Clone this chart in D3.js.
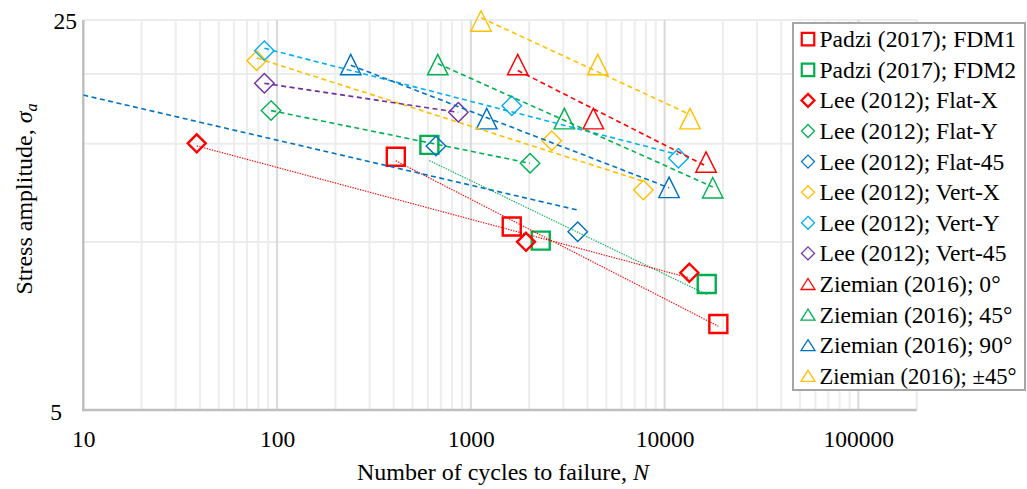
<!DOCTYPE html>
<html><head><meta charset="utf-8">
<script src="https://cdn.jsdelivr.net/npm/d3@7"></script>
<style>
body{margin:0;background:#fff}
svg{display:block}
text{font-family:"Liberation Serif","Times New Roman",serif;fill:#000}
</style>
</head><body>
<svg id="chart" width="1027" height="489"></svg>
<script>
// ---------------- DATA ----------------
const seriesNames = [
  "Padzi (2017); FDM1", "Padzi (2017); FDM2",
  "Lee (2012); Flat-X", "Lee (2012); Flat-Y", "Lee (2012); Flat-45",
  "Lee (2012); Vert-X", "Lee (2012); Vert-Y", "Lee (2012); Vert-45",
  "Ziemian (2016); 0°", "Ziemian (2016); 45°", "Ziemian (2016); 90°", "Ziemian (2016); ±45°"
];
const padziFDM1_N = [410, 1626, 18940];
const padziFDM1_S = [14.22, 10.66, 7.13];
const padziFDM2_N = [611, 2295, 16500];
const padziFDM2_S = [14.93, 10.06, 8.41];
const leeFlatX_N = [38.5, 1927, 13420];
const leeFlatX_S = [15.03, 10.01, 8.81];
const leeFlatY_N = [93.1, 2021];
const leeFlatY_S = [17.2, 13.84];
const leeFlat45_N = [661, 3562];
const leeFlat45_S = [14.86, 10.43];
const leeVertX_N = [78.5, 2615, 7769];
const leeVertX_S = [21.14, 15.19, 12.40];
const leeVertY_N = [86.0, 1626, 11776];
const leeVertY_S = [22.02, 17.55, 14.13];
const leeVert45_N = [86.0, 862];
const leeVert45_S = [19.25, 17.08];
const ziemian0_N = [1746, 4288, 16365];
const ziemian0_S = [20.8, 16.64, 13.91];
const ziemian45_N = [675, 3038, 17721];
const ziemian45_S = [20.8, 16.64, 12.51];
const ziemian90_N = [240, 1208, 10544];
const ziemian90_S = [20.8, 16.64, 12.53];
const ziemianPM45_N = [1129, 4519, 13530];
const ziemianPM45_S = [24.9, 20.8, 16.64];
// Lee Flat-45 trend line as drawn (it runs back past the left edge of the axis)
const leeFlat45Trend_N = [10, 3562];
const leeFlat45Trend_S = [18.34, 11.41];

const xTickValues = [10, 100, 1000, 10000, 100000];
const xTickLabels = ["10", "100", "1000", "10000", "100000"];
const yTickValues = [5, 25];
const yTickLabels = ["5", "25"];
const xTitle = "Number of cycles to failure, ";
const xTitleVar = "N";
const yTitle = "Stress amplitude, ";

// ---------------- STYLE ----------------
const RED = "#FF0000", GREEN = "#00B050", BLUE = "#0070C0", YEL = "#FFC000", LBLUE = "#00B0F0", PURP = "#7030A0";
const series = [
  {N: padziFDM1_N, S: padziFDM1_S, color: RED, shape: "square", thick: true, line: "dot"},
  {N: padziFDM2_N, S: padziFDM2_S, color: GREEN, shape: "square", thick: true, line: "dot"},
  {N: leeFlatX_N, S: leeFlatX_S, color: RED, shape: "diamond", thick: true, line: "dot"},
  {N: leeFlatY_N, S: leeFlatY_S, color: GREEN, shape: "diamond", thick: false, line: "dash"},
  {N: leeFlat45_N, S: leeFlat45_S, color: BLUE, shape: "diamond", thick: false, line: "dash",
    trendN: leeFlat45Trend_N, trendS: leeFlat45Trend_S},
  {N: leeVertX_N, S: leeVertX_S, color: YEL, shape: "diamond", thick: false, line: "dash"},
  {N: leeVertY_N, S: leeVertY_S, color: LBLUE, shape: "diamond", thick: false, line: "dash"},
  {N: leeVert45_N, S: leeVert45_S, color: PURP, shape: "diamond", thick: false, line: "dash"},
  {N: ziemian0_N, S: ziemian0_S, color: RED, shape: "triangle", thick: false, line: "dash"},
  {N: ziemian45_N, S: ziemian45_S, color: GREEN, shape: "triangle", thick: false, line: "dash"},
  {N: ziemian90_N, S: ziemian90_S, color: BLUE, shape: "triangle", thick: false, line: "dash"},
  {N: ziemianPM45_N, S: ziemianPM45_S, color: YEL, shape: "triangle", thick: false, line: "dash"}
];
series.forEach((s, i) => s.name = seriesNames[i]);

const svg = d3.select("#chart");
const L = 83.3, R = 916.7, T = 20, B = 410;
const x = d3.scaleLog().domain([10, 200000]).range([L, R]);
const y = d3.scaleLog().domain([5, 25]).range([B, T]);

svg.append("defs").append("clipPath").attr("id", "plotclip")
  .append("rect").attr("x", L).attr("y", T - 15).attr("width", R - L).attr("height", B - T + 15);

// ---------------- GRID ----------------
const grid = svg.append("g");
const minorX = [];
for (let d = 1; d <= 5; d++) for (let k = 2; k <= 9; k++) minorX.push(k * Math.pow(10, d));
minorX.push(200000);
grid.selectAll("line.mx").data(minorX.filter(v => v <= 200000)).join("line")
  .attr("x1", d => x(d)).attr("x2", d => x(d)).attr("y1", T).attr("y2", B)
  .attr("stroke", "#EDEDED").attr("stroke-width", 2);
const yGrid = [10, 15, 20, 25];
grid.selectAll("line.gy").data(yGrid).join("line")
  .attr("x1", L).attr("x2", R).attr("y1", d => y(d)).attr("y2", d => y(d))
  .attr("stroke", "#ECECEC").attr("stroke-width", 2);
grid.selectAll("line.mj").data(xTickValues.slice(1)).join("line")
  .attr("x1", d => x(d)).attr("x2", d => x(d)).attr("y1", T).attr("y2", B)
  .attr("stroke", "#D9D9D9").attr("stroke-width", 2);

// axes lines
svg.append("line").attr("x1", L).attr("x2", L).attr("y1", T).attr("y2", B + 1.2)
  .attr("stroke", "#BFBFBF").attr("stroke-width", 2.5);
svg.append("line").attr("x1", L - 1.2).attr("x2", R).attr("y1", B).attr("y2", B)
  .attr("stroke", "#BFBFBF").attr("stroke-width", 2.5);

// tick labels via d3 axes (domain/ticks hidden)
const xAxis = d3.axisBottom(x).tickValues(xTickValues).tickFormat((d, i) => xTickLabels[i]).tickSize(0).tickPadding(0);
const gx = svg.append("g").attr("transform", `translate(0,${B})`).call(xAxis);
gx.select(".domain").remove();
gx.selectAll("text").attr("font-size", 23.5).attr("font-family", "Liberation Serif")
  .attr("fill", "#000").attr("y", 37).attr("dy", 0);

const yAxis = d3.axisLeft(y).tickValues(yTickValues).tickFormat((d, i) => yTickLabels[i]).tickSize(0).tickPadding(0);
const gy = svg.append("g").attr("transform", `translate(0,0)`).call(yAxis);
gy.select(".domain").remove();
gy.selectAll("text").attr("font-size", 23.5).attr("font-family", "Liberation Serif")
  .attr("fill", "#000").attr("dy", 0)
  .attr("x", d => d === 25 ? 77 : 62)
  .attr("y", d => d === 25 ? 8 : 9.5);

// axis titles
const xt = svg.append("text").attr("x", 503).attr("y", 480).attr("text-anchor", "middle").attr("font-size", 24);
xt.append("tspan").text(xTitle);
xt.append("tspan").attr("font-style", "italic").text(xTitleVar);

const yt = svg.append("text").attr("transform", "translate(31.5,199) rotate(-90)")
  .attr("text-anchor", "middle").attr("font-size", 24);
yt.append("tspan").text(yTitle);
yt.append("tspan").attr("font-style", "italic").text("σ");
yt.append("tspan").attr("font-style", "italic").attr("font-size", 16).attr("dy", 5).text("a");

// ---------------- MARKERS & TRENDLINES ----------------
function shapePath(shape, w, h) {
  const a = w / 2, b = (h === undefined ? w : h) / 2;
  if (shape === "square") return `M${-a},${-b}H${a}V${b}H${-a}Z`;
  if (shape === "diamond") return `M0,${-b}L${a},0L0,${b}L${-a},0Z`;
  return `M0,${-b}L${a},${b}L${-a},${b}Z`;
}
function markerSize(s) {
  if (s.shape === "square") return 18;
  if (s.shape === "diamond") return s.thick ? 18 : 19.5;
  return 20.5;
}
const plot = svg.append("g").attr("clip-path", "url(#plotclip)");

series.forEach(s => {
  const pts = s.N.map((n, i) => [n, s.S[i]]);
  plot.append("g").selectAll("path").data(pts).join("path")
    .attr("transform", d => `translate(${x(d[0])},${y(d[1])})`)
    .attr("d", shapePath(s.shape, markerSize(s)))
    .attr("fill", "none").attr("stroke", s.color)
    .attr("stroke-width", s.thick ? 2.4 : 1.4).attr("stroke-linejoin", "miter");
});

series.forEach(s => {
  let line;
  if (s.trendN) {
    line = s.trendN.map((n, i) => [n, s.trendS[i]]);
  } else {
    // power trend line: least squares in log-log space, spanning the data range
    const lx = s.N.map(Math.log10), ly = s.S.map(Math.log10);
    const mx = d3.mean(lx), my = d3.mean(ly);
    const b = d3.sum(lx.map((v, i) => (v - mx) * (ly[i] - my))) / d3.sum(lx.map(v => (v - mx) ** 2));
    const a = my - b * mx;
    const [n0, n1] = d3.extent(s.N);
    line = [n0, n1].map(n => [n, Math.pow(10, a + b * Math.log10(n))]);
  }
  plot.append("path").datum(line)
    .attr("d", d3.line().x(d => x(d[0])).y(d => y(d[1])))
    .attr("fill", "none").attr("stroke", s.color)
    .attr("stroke-width", s.line === "dot" ? 1.2 : 1.6)
    .attr("stroke-dasharray", s.line === "dot" ? "1.3,1.3" : "5,3.5");
});

// ---------------- LEGEND ----------------
const lg = svg.append("g");
lg.append("rect").attr("x", 793).attr("y", 23).attr("width", 232).attr("height", 367)
  .attr("fill", "#fff").attr("stroke", "#A6A6A6").attr("stroke-width", 2);
series.forEach((s, i) => {
  const cy = 39.2 + 30.6 * i;
  let d;
  if (s.shape === "square") d = shapePath("square", 12.5);
  else if (s.shape === "diamond") d = shapePath("diamond", 13, 13);
  else d = shapePath("triangle", 14, 11);
  lg.append("path").attr("transform", `translate(808,${cy})`).attr("d", d)
    .attr("fill", "none").attr("stroke", s.color).attr("stroke-width", s.thick ? 2.2 : 1.3);
  const t = lg.append("text").attr("x", 819.5).attr("y", cy + 8).attr("font-size", 23.6).text(s.name);
  if (t.node().getComputedTextLength() > 198) {
    t.attr("textLength", 197).attr("lengthAdjust", "spacingAndGlyphs");
  }
});
</script>
</body></html>
